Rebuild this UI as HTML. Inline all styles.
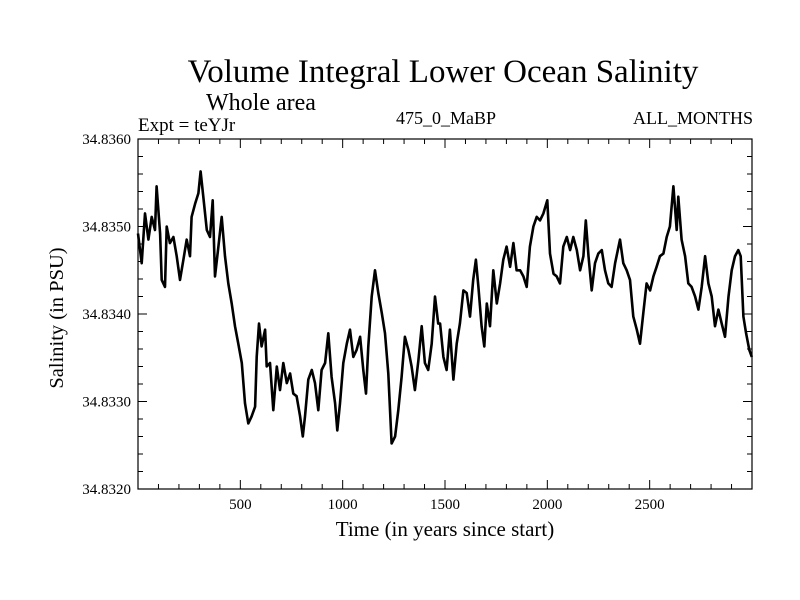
<!DOCTYPE html>
<html><head><meta charset="utf-8"><style>
body{margin:0;background:#fff}
svg{display:block;font-family:"Liberation Serif",serif}
</style></head><body>
<svg id="chart" width="800" height="600">
<text x="443" y="82" font-size="33" text-anchor="middle">Volume Integral Lower Ocean Salinity</text>
<text x="206" y="110" font-size="24">Whole area</text>
<text x="138" y="131" font-size="19">Expt = teYJr</text>
<text x="446" y="124" font-size="18" text-anchor="middle">475_0_MaBP</text>
<text x="753" y="124" font-size="18" text-anchor="end">ALL_MONTHS</text>
<text x="445" y="536" font-size="21" text-anchor="middle">Time (in years since start)</text>
<text transform="translate(63,318) rotate(-90)" font-size="20.5" text-anchor="middle">Salinity (in PSU)</text>
<g id="ticks"></g>
<path id="line" fill="none" stroke="#000" stroke-width="2.6" stroke-linejoin="round"/>
<rect x="138" y="139" width="614" height="350" fill="none" stroke="#000" stroke-width="1.2"/>
</svg>
<script>
const years=[0,18,34,51,67,83,91,108,116,132,140,156,173,189,205,222,238,254,262,279,295,306,319,336,352,365,376,393,409,425,441,458,474,490,507,523,539,555,572,580,591,604,621,629,645,661,678,694,710,727,743,759,775,792,805,816,832,849,865,881,897,914,930,946,963,974,987,1003,1020,1036,1052,1068,1085,1101,1114,1125,1142,1158,1174,1191,1207,1223,1239,1256,1272,1288,1304,1321,1337,1353,1370,1386,1402,1418,1435,1451,1467,1476,1492,1508,1524,1541,1557,1573,1590,1606,1622,1638,1651,1663,1679,1692,1704,1720,1736,1753,1769,1785,1801,1818,1834,1850,1867,1883,1899,1915,1932,1948,1964,1981,2000,2013,2030,2046,2062,2078,2095,2111,2127,2144,2160,2176,2188,2201,2217,2233,2249,2266,2282,2298,2314,2331,2355,2371,2388,2404,2420,2437,2453,2469,2485,2502,2518,2534,2550,2567,2583,2599,2616,2632,2640,2656,2673,2689,2705,2722,2738,2754,2771,2787,2803,2819,2836,2852,2868,2885,2901,2917,2933,2945,2958,2971,2987,2999];
const salinity=[34.83492,34.83458,34.83515,34.83485,34.83511,34.83496,34.83546,34.83492,34.83439,34.83431,34.835,34.83481,34.83488,34.83466,34.83439,34.83462,34.83485,34.83466,34.83511,34.83526,34.83538,34.83563,34.83534,34.83496,34.83488,34.8353,34.83443,34.83477,34.83511,34.83466,34.83435,34.83412,34.83386,34.83366,34.83344,34.83298,34.83275,34.83283,34.83294,34.83351,34.83389,34.83363,34.83382,34.8334,34.83344,34.8329,34.8334,34.83313,34.83344,34.83321,34.83332,34.83309,34.83306,34.83283,34.8326,34.83283,34.83325,34.83336,34.83321,34.8329,34.83336,34.83344,34.83378,34.83328,34.83298,34.83267,34.83298,34.83344,34.83366,34.83382,34.83351,34.83359,34.83374,34.83336,34.83309,34.83363,34.8342,34.8345,34.83424,34.83401,34.83378,34.83332,34.83252,34.8326,34.8329,34.83328,34.83374,34.83359,34.8334,34.83313,34.83347,34.83386,34.83344,34.83336,34.83366,34.8342,34.83389,34.83389,34.83351,34.83336,34.83382,34.83325,34.83366,34.83389,34.83427,34.83424,34.83397,34.83439,34.83462,34.83431,34.83386,34.83363,34.83412,34.83386,34.8345,34.83412,34.83435,34.83462,34.83477,34.83454,34.83481,34.8345,34.8345,34.83443,34.83431,34.83477,34.835,34.83511,34.83507,34.83515,34.8353,34.83469,34.83446,34.83443,34.83435,34.83477,34.83488,34.83473,34.83488,34.83473,34.8345,34.83466,34.83507,34.83466,34.83427,34.83458,34.83469,34.83473,34.8345,34.83435,34.83431,34.83458,34.83485,34.83458,34.8345,34.83439,34.83397,34.83382,34.83366,34.83401,34.83435,34.83427,34.83443,34.83454,34.83466,34.83469,34.83488,34.835,34.83546,34.83496,34.83534,34.83485,34.83466,34.83435,34.83431,34.8342,34.83405,34.83431,34.83466,34.83435,34.8342,34.83386,34.83405,34.83389,34.83374,34.8342,34.8345,34.83466,34.83473,34.83466,34.83397,34.83378,34.83359,34.83351];
const xTickLabels=[500,1000,1500,2000,2500];
const yTickLabels=["34.8320","34.8330","34.8340","34.8350","34.8360"];
const X0=138,X1=752,Y0=489,Y1=139,XMIN=0,XMAX=3000,YMIN=34.832,YMAX=34.836;
const sx=v=>X0+(v-XMIN)/(XMAX-XMIN)*(X1-X0);
const sy=v=>Y0-(v-YMIN)/(YMAX-YMIN)*(Y0-Y1);
const NS="http://www.w3.org/2000/svg";
const g=document.getElementById('ticks');
function ln(x1,y1,x2,y2){const l=document.createElementNS(NS,'line');l.setAttribute('x1',x1);l.setAttribute('y1',y1);l.setAttribute('x2',x2);l.setAttribute('y2',y2);l.setAttribute('stroke','#000');


g.appendChild(l);}
for(let v=100;v<XMAX;v+=100){const x=sx(v),L=v%500===0?9:5;ln(x,Y0,x,Y0-L);ln(x,Y1,x,Y1+L);}
for(let i=1;i<20;i++){const v=YMIN+i*0.0002,y=sy(v),L=i%5===0?9:5;ln(X0,y,X0+L,y);ln(X1,y,X1-L,y);}
xTickLabels.forEach(v=>{const t=document.createElementNS(NS,'text');t.setAttribute('x',sx(v));t.setAttribute('y',Y0+20);t.setAttribute('font-size','15');t.setAttribute('text-anchor','middle');t.textContent=v;


g.appendChild(t);});
yTickLabels.forEach(s=>{const t=document.createElementNS(NS,'text');t.setAttribute('x',X0-7);t.setAttribute('y',sy(parseFloat(s))+5);t.setAttribute('font-size','15');t.setAttribute('text-anchor','end');t.textContent=s;


g.appendChild(t);});
document.getElementById('line').setAttribute('d',years.map((y,i)=>(i?'L':'M')+sx(y).toFixed(1)+','+sy(salinity[i]).toFixed(1)).join(''));
</script>
</body></html>
